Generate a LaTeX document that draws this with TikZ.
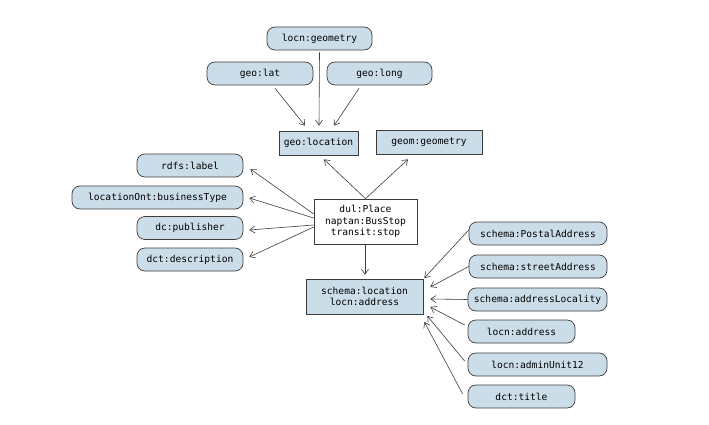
\documentclass[tikz,border=0pt]{standalone}
\usepackage{fontspec}
\setmonofont{DejaVu Sans Mono}
\usetikzlibrary{arrows.meta}
\definecolor{propfill}{RGB}{204,221,234}
\definecolor{edgegray}{RGB}{60,60,60}
\begin{document}
\begin{tikzpicture}[x=1pt,y=-1pt,
  every node/.style={font=\ttfamily\fontsize{9.6}{11.5}\selectfont, inner sep=0pt, align=center},
  prop/.style={draw=edgegray, fill=propfill, rounded corners=8pt, minimum height=23pt, line width=0.7pt},
  cls/.style={draw=edgegray, fill=propfill, line width=0.7pt},
  link/.style={draw=edgegray, line width=0.6pt, -{Straight Barb[length=5pt,width=7pt]}}]
\useasboundingbox (0,0) rectangle (709,425);
\fill[white] (0,0) rectangle (709,425);

% central resource
\node[draw=edgegray, fill=white, line width=0.7pt, minimum width=103pt, minimum height=45pt] (place) at (365.5,221.5) {dul:Place\\naptan:BusStop\\transit:stop};

% geometry branch
\node[prop, minimum width=105pt] (locngeom) at (319.5,38.5) {locn:geometry};
\node[prop, minimum width=106pt] (lat) at (260,73.5) {geo:lat};
\node[prop, minimum width=105pt] (long) at (379.5,73.5) {geo:long};
\node[cls, minimum width=79pt, minimum height=24pt] (geoloc) at (318.5,143) {geo:location};
\node[cls, minimum width=106pt, minimum height=24pt] (geomgeom) at (429,142) {geom:geometry};

% literal properties
\node[prop, minimum width=106pt] (label) at (190,165.5) {rdfs:label};
\node[prop, minimum width=171pt] (btype) at (157.5,197.5) {locationOnt:businessType};
\node[prop, minimum width=106pt] (publisher) at (190,228) {dc:publisher};
\node[prop, minimum width=106pt] (descr) at (190,259.5) {dct:description};

% address branch
\node[cls, minimum width=117pt, minimum height=35pt] (addr) at (364.5,296.5) {schema:location\\locn:address};
\node[prop, minimum width=138pt] (postal) at (538,233.5) {schema:PostalAddress};
\node[prop, minimum width=138pt] (street) at (538,266.5) {schema:streetAddress};
\node[prop, minimum width=139pt] (locality) at (537.5,299.5) {schema:addressLocality};
\node[prop, minimum width=107pt] (laddr) at (521.5,331.5) {locn:address};
\node[prop, minimum width=139pt] (admin) at (537.5,364.5) {locn:adminUnit12};
\node[prop, minimum width=107pt] (title) at (521.5,396.5) {dct:title};

% geometry connectors
\draw[link] ([shift={(15,3)}]lat.south) -- ([shift={(-13.5,-5)}]geoloc.north);
\draw[link] ([shift={(0,2)}]locngeom.south) -- ([shift={(0.5,-5)}]geoloc.north);
\draw[link] ([shift={(-20.5,3)}]long.south) -- ([shift={(15.5,-5)}]geoloc.north);

\draw[link] (place.north) -- ([shift={(5.5,4)}]geoloc.south);
\draw[link] (place.north) -- ([shift={(-21,5)}]geomgeom.south);

% literal connectors
\draw[link] ([shift={(0,-7.5)}]place.west) -- ([shift={(7,3.5)}]label.east);
\draw[link] ([shift={(0,-3.5)}]place.west) -- ([shift={(6,0.5)}]btype.east);
\draw[link] ([shift={(0,3.5)}]place.west) -- ([shift={(6,2)}]publisher.east);
\draw[link] ([shift={(0,5.5)}]place.west) -- ([shift={(6,-2.5)}]descr.east);

% address connectors
\draw[link] ([shift={(-0.5,1)}]place.south) -- ([shift={(0.5,-4)}]addr.north);

\draw[link] ([shift={(0,-3.5)}]postal.west) -- ([shift={(1,-18.5)}]addr.east);
\draw[link] (street.west) -- ([shift={(7,-9.5)}]addr.east);
\draw[link] (locality.west) -- ([shift={(7,2.5)}]addr.east);
\draw[link] ([shift={(-3,-6.5)}]laddr.west) -- ([shift={(7,10.5)}]addr.east);
\draw[link] ([shift={(-3,-3.5)}]admin.west) -- ([shift={(4,19.5)}]addr.east);
\draw[link] ([shift={(-5,-2.5)}]title.west) -- ([shift={(1,25.5)}]addr.east);
\end{tikzpicture}
\end{document}
